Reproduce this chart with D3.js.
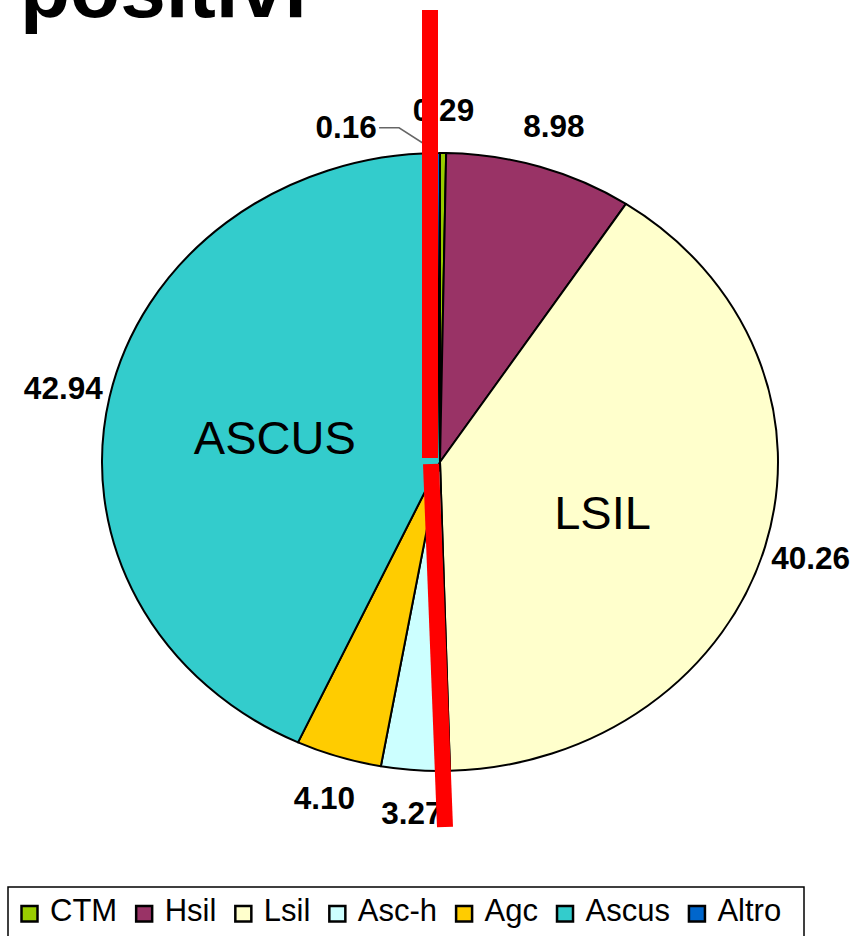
<!DOCTYPE html>
<html><head><meta charset="utf-8">
<script src="https://cdn.jsdelivr.net/npm/d3@7"></script>
<style>body{margin:0;background:#fff}svg{display:block}text{font-family:"Liberation Sans",Arial,sans-serif}</style>
</head><body>
<svg id="c" width="864" height="936"></svg>
<script>
const categories = ["CTM","Hsil","Lsil","Asc-h","Agc","Ascus","Altro"];
const values = [0.29, 8.98, 40.26, 3.27, 4.10, 42.94, 0.16];
const colors = ["#99cc00","#993366","#ffffcc","#ccffff","#ffcc00","#33cccc","#0066cc"];
const insideLabels = {"Lsil":"LSIL","Ascus":"ASCUS"};
const title = "positivi";

const svg = d3.select("#c");
const cx = 440, cy = 462, rx = 338, ry = 309;

svg.append("text").attr("x",20).attr("y",17).attr("font-size",82).attr("font-weight","bold").text(title);

const pie = d3.pie().sort(null).value(d=>d.v);
const data = pie(categories.map((c,i)=>({c, v:values[i], col:colors[i]})));
const arc = d3.arc().innerRadius(0).outerRadius(rx);

const g = svg.append("g").attr("transform",`translate(${cx},${cy}) scale(1,${ry/rx})`);
g.selectAll("path").data(data).join("path")
  .attr("d",arc).attr("fill",d=>d.data.col)
  .attr("stroke","#000").attr("stroke-width",2).attr("vector-effect","non-scaling-stroke")
  .attr("stroke-linejoin","round");

// value labels
const k = 1.14;
const lab = svg.append("g");
data.forEach((d,i)=>{
  const a = (d.startAngle+d.endAngle)/2;
  let x = cx + k*rx*Math.sin(a), y = cy - k*ry*Math.cos(a);
  const last = i===data.length-1 && d.data.v<1;
  if(last){
    const ex = cx + rx*Math.sin(a), ey = cy - ry*Math.cos(a);
    x = x - 92; y = y + 17;
    const lx = x + 33;
    lab.append("polyline").attr("points",`${lx},${y+1} ${lx+20},${y+1} ${ex},${ey}`)
      .attr("fill","none").attr("stroke","#666").attr("stroke-width",1.5);
  }
  lab.append("text").attr("x",x).attr("y",y).attr("text-anchor","middle")
    .attr("dominant-baseline","central").attr("font-size",31.5).attr("font-weight","bold")
    .text(d.data.v.toFixed(2));
});
// inside labels
data.forEach(d=>{
  const t = insideLabels[d.data.c]; if(!t) return;
  const a = (d.startAngle+d.endAngle)/2;
  const x = cx + 0.5*rx*Math.sin(a), y = cy - 0.5*ry*Math.cos(a) + 8;
  svg.append("text").attr("x",x).attr("y",y).attr("text-anchor","middle")
    .attr("dominant-baseline","central").attr("font-size",47).text(t);
});

// red annotation strokes
svg.append("line").attr("x1",430).attr("y1",10).attr("x2",430).attr("y2",458)
  .attr("stroke","#ff0000").attr("stroke-width",16);
svg.append("line").attr("x1",431).attr("y1",464).attr("x2",445).attr("y2",827)
  .attr("stroke","#ff0000").attr("stroke-width",16);

// legend
const lg = svg.append("g");
lg.append("rect").attr("x",8).attr("y",887).attr("width",796).attr("height",60)
  .attr("fill","#fff").attr("stroke","#000").attr("stroke-width",1.5);
let lx = 21.5;
categories.forEach((c,i)=>{
  lg.append("rect").attr("x",lx).attr("y",906).attr("width",16).attr("height",15.5)
    .attr("fill",colors[i]).attr("stroke","#000").attr("stroke-width",2.5);
  const t = lg.append("text").attr("x",lx+28.5).attr("y",921).attr("font-size",31).text(c);
  lx += 28.5 + t.node().getComputedTextLength() + 19;
});
</script>
</body></html>
